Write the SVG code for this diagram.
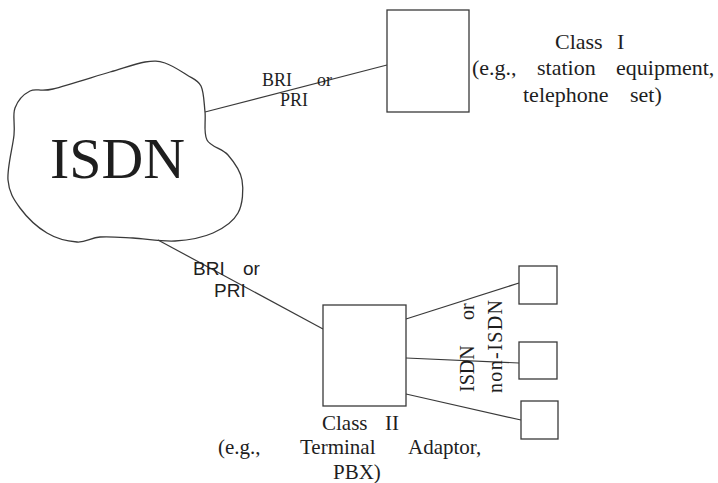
<svg xmlns="http://www.w3.org/2000/svg" width="718" height="483" viewBox="0 0 718 483">
<style>
.shape{fill:none;stroke:#3a3a3a;stroke-width:1.3}
.box{fill:#fff;stroke:#3a3a3a;stroke-width:1.3}
.conn{stroke:#3a3a3a;stroke-width:1.2;fill:none}
.serif{font-family:"Liberation Serif","Times New Roman",serif;fill:#1e1e1e}
.sans{font-family:"Liberation Sans",Arial,sans-serif;fill:#1e1e1e}
.lbl{font-size:22px}
.lbl2{font-size:21px}
</style>
<rect width="718" height="483" fill="#fff"/>
<g id="connectors">
<line class="conn" x1="205" y1="112" x2="387" y2="65"/>
<line class="conn" x1="158" y1="240" x2="323" y2="329"/>
<line class="conn" x1="406" y1="319" x2="519" y2="283"/>
<line class="conn" x1="406" y1="358" x2="519" y2="363"/>
<line class="conn" x1="406" y1="394" x2="521" y2="420"/>
</g>
<g id="isdn-cloud">
<path class="shape" d="M15,108 C17.7,100.7 23.7,94.2 30,91 C36.3,87.8 39.7,92.2 53,89 C66.3,85.8 94.7,76.5 110,72 C125.3,67.5 135.8,63.5 145,62 C154.2,60.5 158,60.8 165,63 C172,65.2 181,71.2 187,75 C193,78.8 198,79.8 201,86 C204,92.2 204,103 205,112 C206,121 203.2,132.8 207,140 C210.8,147.2 222.2,148.3 228,155 C233.8,161.7 240.3,170.3 242,180 C243.7,189.7 242.8,204.2 238,213 C233.2,221.8 223.5,228.3 213,233 C202.5,237.7 188.3,240.2 175,241 C161.7,241.8 145.5,238.7 133,238 C120.5,237.3 109.3,236.3 100,237 C90.7,237.7 85.8,242.7 77,242 C68.2,241.3 56.5,238.7 47,233 C37.5,227.3 26.5,216.8 20,208 C13.5,199.2 9,192.2 8,180 C7,167.8 12.8,147 14,135 C15.2,123 12.3,115.3 15,108 Z"/>
<text class="serif" x="50" y="178" font-size="57" textLength="135" lengthAdjust="spacingAndGlyphs" fill="#333">ISDN</text>
</g>
<g id="link-top-label">
<text class="serif" font-size="18"><tspan x="262" y="86">BRI</tspan><tspan x="317" y="86">or</tspan><tspan x="280" y="106">PRI</tspan></text>
</g>
<g id="class1">
<rect class="box" x="387" y="10" width="82" height="102"/>
<text class="serif lbl"><tspan x="555" y="49">Class</tspan><tspan x="617" y="49">I</tspan><tspan x="472" y="75">(e.g.,</tspan><tspan x="537" y="75">station</tspan><tspan x="616" y="75">equipment,</tspan><tspan x="523" y="102">telephone</tspan><tspan x="630" y="102">set)</tspan></text>
</g>
<g id="link-bottom-label">
<text class="sans" font-size="19"><tspan x="193" y="275">BRI</tspan><tspan x="243" y="275">or</tspan><tspan x="214" y="297">PRI</tspan></text>
</g>
<g id="class2">
<rect class="box" x="323" y="305" width="83" height="101"/>
<text class="serif lbl2"><tspan x="322" y="430">Class</tspan><tspan x="385" y="430">II</tspan><tspan x="218" y="454">(e.g.,</tspan><tspan x="300" y="454">Terminal</tspan><tspan x="408" y="454">Adaptor,</tspan><tspan x="333" y="479">PBX)</tspan></text>
</g>
<g id="terminal-1"><rect class="box" x="519" y="266" width="38" height="38"/></g>
<g id="terminal-2"><rect class="box" x="519" y="342" width="38" height="37"/></g>
<g id="terminal-3"><rect class="box" x="521" y="401" width="37" height="38"/></g>
<g id="isdn-label">
<text class="serif" font-size="20" transform="translate(474,392) rotate(-90)"><tspan x="0">ISDN</tspan><tspan x="72">or</tspan></text>
<text class="serif" font-size="20" transform="translate(502,393) rotate(-90)" textLength="93" lengthAdjust="spacing">non-ISDN</text>
</g>
</svg>
